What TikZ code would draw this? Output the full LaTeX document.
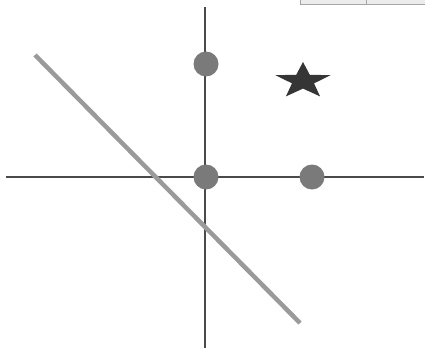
\documentclass[tikz,border=0pt]{standalone}
\usepackage{tikz}

\definecolor{axisgray}{HTML}{4A4A4A}
\definecolor{dotgray}{HTML}{7A7A7A}
\definecolor{linegray}{HTML}{9A9A9A}
\definecolor{stargray}{HTML}{353535}
\tikzset{
  dot/.style={circle,fill=dotgray,inner sep=0pt,minimum size=25pt},
}

\begin{document}
\begin{tikzpicture}[x=1pt,y=-1pt]
\useasboundingbox (0,0) rectangle (425,350);

% piece of a box cut by the top edge
\draw[fill=gray!15,draw=gray!70,line width=1pt] (300,-3) rectangle (428,5);
\draw[gray!70,line width=1pt] (366,-3) -- (366,5);

% axes
\draw[axisgray,line width=2pt] (6,177) -- (424,177);
\draw[axisgray,line width=2pt] (205,7) -- (205,348);

% line
\draw[linegray,line width=4.5pt] (35,55) -- (300,323);

% points
\node[dot] (p1) at (206,64) {};
\node[dot] (p0) at (206,177) {};
\node[dot] (p2) at (312,177) {};

% star
\node[inner sep=0pt] (star) at (303,81) {};
\begin{scope}[shift={(star)},x=29pt,y=19pt]
\fill[stargray] (90:1) -- (126:0.4) -- (162:1) -- (198:0.4) -- (234:1)
  -- (270:0.4) -- (306:1) -- (342:0.4) -- (18:1) -- (54:0.4) -- cycle;
\end{scope}
\end{tikzpicture}
\end{document}
